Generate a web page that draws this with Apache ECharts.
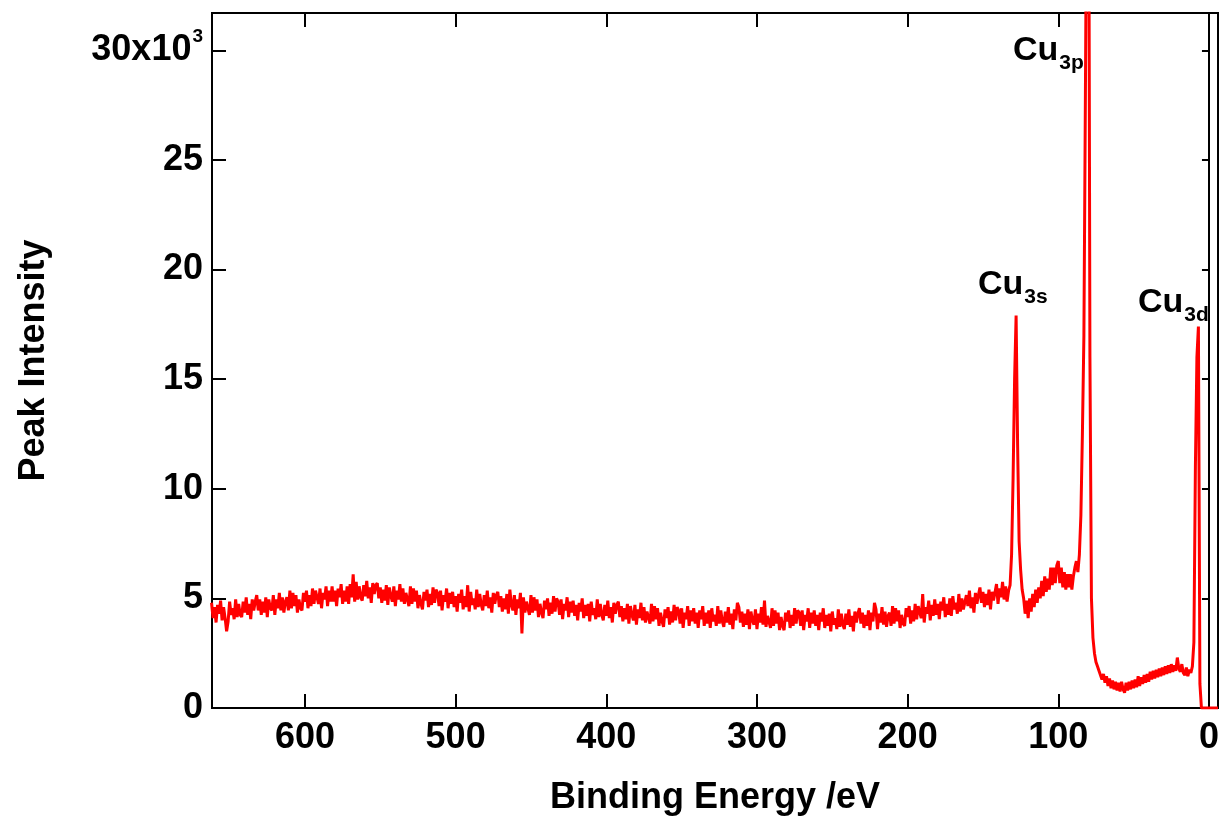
<!DOCTYPE html>
<html>
<head>
<meta charset="utf-8">
<title>XPS survey spectrum</title>
<script src="https://cdn.jsdelivr.net/npm/echarts@6/dist/echarts.min.js"></script>
<style>
  html, body { margin: 0; padding: 0; background: #fff; }
  #main { width: 1224px; height: 824px; }
</style>
</head>
<body>
<div id="main"></div>
<script>
// Spectrum channels: binding energy starts at energyStart and falls by energyStep per channel.
const energyStart = 662;   // eV
const energyStep = 1;      // eV
// Peak intensity per channel, in units of 10^3 counts.
const intensity = [
  4.8, 4.1, 4.6, 3.9, 4.7, 4.3, 4.9, 4.0, 4.6, 4.1,   // 662-653
  3.5, 3.95, 4.85, 4.25, 4.55, 4.05, 4.95, 4.15, 4.75, 4.25,   // 652-643
  4.15, 4.85, 4.35, 5.05, 4.25, 4.75, 4.05, 4.95, 4.45, 4.85,   // 642-633
  5.15, 4.45, 4.95, 4.25, 4.85, 4.35, 5.05, 4.15, 4.95, 4.55,   // 632-623
  4.45, 5.15, 4.25, 4.95, 4.55, 5.25, 4.45, 5.05, 4.35, 4.85,   // 622-613
  5.05, 4.45, 5.35, 4.55, 5.25, 4.65, 5.15, 4.35, 4.95, 4.55,   // 612-603
  4.45, 5.25, 4.85, 5.35, 4.55, 5.15, 4.65, 5.45, 4.75, 5.35,   // 602-593
  5.35, 4.75, 5.45, 4.55, 5.25, 4.95, 5.55, 4.65, 5.35, 4.85,   // 592-583
  5.55, 4.85, 5.35, 4.65, 5.45, 5.05, 5.65, 4.75, 5.35, 4.85,   // 582-573
  5.55, 4.75, 5.65, 5.05, 6.1, 4.85, 5.75, 4.95, 5.55, 5.05,   // 572-563
  4.9, 5.6, 5.1, 5.8, 5.0, 5.5, 4.8, 5.7, 5.2, 5.6,   // 562-553
  5.7, 5.0, 5.5, 4.8, 5.4, 4.9, 5.6, 4.7, 5.5, 5.1,   // 552-543
  4.85, 5.55, 4.65, 5.35, 4.95, 5.65, 4.85, 5.45, 4.75, 5.25,   // 542-533
  5.25, 4.65, 5.55, 4.75, 5.45, 4.85, 5.35, 4.55, 5.15, 4.75,   // 532-523
  4.5, 5.3, 4.9, 5.4, 4.6, 5.2, 4.7, 5.5, 4.8, 5.4,   // 522-513
  5.25, 4.65, 5.35, 4.45, 5.15, 4.85, 5.45, 4.55, 5.25, 4.75,   // 512-503
  5.3, 4.6, 5.1, 4.4, 5.2, 4.8, 5.4, 4.5, 5.1, 4.6,   // 502-493
  5.6, 4.4, 5.3, 4.7, 5.0, 4.5, 5.4, 4.6, 5.2, 4.7,   // 492-483
  4.45, 5.15, 4.65, 5.35, 4.55, 5.05, 4.35, 5.25, 4.75, 5.15,   // 482-473
  5.3, 4.6, 5.1, 4.4, 5.0, 4.5, 5.2, 4.3, 5.4, 4.7,   // 472-463
  4.45, 5.15, 4.25, 4.95, 4.55, 5.25, 3.4, 5.05, 4.35, 4.85,   // 462-453
  4.85, 4.25, 5.15, 4.35, 5.05, 4.45, 4.95, 4.15, 4.75, 4.35,   // 452-443
  4.1, 4.9, 4.5, 5.0, 4.2, 4.8, 4.3, 5.1, 4.4, 5.0,   // 442-433
  4.85, 4.25, 4.95, 4.05, 4.75, 4.45, 5.05, 4.15, 4.85, 4.35,   // 432-423
  4.9, 4.2, 4.7, 4.0, 4.8, 4.4, 5.0, 4.1, 4.7, 4.2,   // 422-413
  4.75, 3.95, 4.85, 4.25, 4.55, 4.05, 4.95, 4.15, 4.75, 4.25,   // 412-403
  4.0, 4.7, 4.2, 4.9, 4.1, 4.6, 3.9, 4.8, 4.3, 4.7,   // 402-393
  4.85, 4.15, 4.65, 3.95, 4.55, 4.05, 4.75, 3.85, 4.65, 4.25,   // 392-383
  4.0, 4.7, 3.8, 4.5, 4.1, 4.8, 4.0, 4.6, 3.9, 4.4,   // 382-373
  4.45, 3.85, 4.75, 3.95, 4.65, 4.05, 4.55, 3.75, 4.35, 3.95,   // 372-363
  3.7, 4.5, 4.1, 4.6, 3.8, 4.4, 3.9, 4.7, 4.0, 4.6,   // 362-353
  4.45, 3.85, 4.55, 3.65, 4.35, 4.05, 4.65, 3.75, 4.45, 3.95,   // 352-343
  4.55, 3.85, 4.35, 3.65, 4.45, 4.05, 4.65, 3.75, 4.35, 3.85,   // 342-333
  4.45, 3.65, 4.55, 3.95, 4.25, 3.75, 4.65, 3.85, 4.45, 3.95,   // 332-323
  3.7, 4.4, 3.9, 4.6, 3.8, 4.3, 3.6, 4.5, 4.0, 4.8,   // 322-313
  4.6, 3.9, 4.4, 3.7, 4.3, 3.8, 4.5, 3.6, 4.4, 4.0,   // 312-303
  3.8, 4.5, 3.6, 4.3, 3.9, 4.6, 3.8, 4.9, 3.7, 4.2,   // 302-293
  4.25, 3.65, 4.55, 3.75, 4.45, 3.85, 4.35, 3.55, 4.15, 3.75,   // 292-283
  3.55, 4.35, 3.95, 4.45, 3.65, 4.25, 3.75, 4.55, 3.85, 4.45,   // 282-273
  4.35, 3.75, 4.45, 3.55, 4.25, 3.95, 4.55, 3.65, 4.35, 3.85,   // 272-263
  4.45, 3.75, 4.25, 3.55, 4.35, 3.95, 4.55, 3.65, 4.25, 3.75,   // 262-253
  4.3, 3.5, 4.4, 3.8, 4.1, 3.6, 4.5, 3.7, 4.3, 3.8,   // 252-243
  3.6, 4.3, 3.8, 4.5, 3.7, 4.2, 3.5, 4.4, 3.9, 4.3,   // 242-233
  4.55, 3.85, 4.35, 3.65, 4.25, 3.75, 4.45, 3.55, 4.35, 3.95,   // 232-223
  4.8, 4.5, 3.6, 4.3, 3.9, 4.6, 3.8, 4.4, 3.7, 4.2,   // 222-213
  4.35, 3.75, 4.65, 3.85, 4.55, 3.95, 4.45, 3.65, 4.25, 3.85,   // 212-203
  3.75, 4.55, 4.15, 4.65, 3.85, 4.45, 3.95, 4.75, 4.05, 4.65,   // 202-193
  4.7, 4.1, 5.2, 3.9, 4.6, 4.3, 4.9, 4.0, 4.7, 4.2,   // 192-183
  4.95, 4.25, 4.75, 4.05, 4.85, 4.45, 5.05, 4.15, 4.75, 4.25,   // 182-173
  5.0, 4.2, 5.1, 4.5, 4.8, 4.3, 5.2, 4.4, 5.0, 4.5,   // 172-163
  4.45, 5.15, 4.65, 5.35, 4.55, 5.05, 4.35, 5.25, 4.75, 5.15,   // 162-153
  5.5, 4.8, 5.3, 4.6, 5.2, 4.7, 5.4, 4.5, 5.3, 4.9,   // 152-143
  4.95, 5.65, 4.75, 5.45, 5.05, 5.75, 4.95, 5.55, 4.85, 5.35,   // 142-133
  5.6, 7.0, 10.5, 15.0, 17.9, 12.0, 7.6, 6.3, 5.4, 5.0,   // 132-123
  4.3, 4.9, 4.1, 5.0, 4.4, 5.2, 4.6, 5.4, 4.8, 5.5,   // 122-113
  5.0, 5.8, 5.1, 6.0, 5.3, 5.9, 5.4, 6.4, 5.6, 6.4,   // 112-103
  5.7, 6.5, 6.7, 5.7, 6.4, 5.5, 6.2, 5.4, 6.1, 5.5,   // 102-93
  6.1, 5.4, 6.0, 6.4, 6.7, 6.2, 7.0, 8.8, 12.5, 17.0,   // 92-83
  28.0, 40.0, 45.0, 16.0, 5.0, 3.2, 2.5, 2.1, 1.9, 1.7,   // 82-73
  1.7, 1.3, 1.55, 1.15, 1.45, 1.0, 1.35, 0.9, 1.25, 0.85,   // 72-63
  1.2, 0.8, 1.15, 0.75, 1.2, 0.85, 0.7, 1.15, 0.8, 1.2,   // 62-53
  0.85, 1.25, 0.9, 1.3, 0.95, 1.45, 1.0, 1.4, 1.1, 1.5,   // 52-43
  1.15, 1.55, 1.2, 1.65, 1.3, 1.7, 1.35, 1.75, 1.4, 1.8,   // 42-33
  1.45, 1.85, 1.5, 1.9, 1.55, 1.95, 1.6, 2.0, 1.65, 1.95,   // 32-23
  1.7, 2.3, 1.8, 1.65, 2.0, 1.6, 1.5, 1.85, 1.45, 1.75,   // 22-13
  1.6, 1.9, 3.0, 11.0, 16.0, 17.4, 1.1, 0, 0, 0,   // 12-3
  0, 0, 0, 0, 0, 0, 0, 0, 0   // 2 to -6
];

// Axis ticks
const energyTicks = [0, 100, 200, 300, 400, 500, 600];
const intensityTicks = [0, 5, 10, 15, 20, 25, 30];

// Peak assignments; each note is anchored (left edge, text baseline) in data coordinates.
const peakNotes = [
  { name: 'Cu', sub: '3s', at: [153.3, 18.75] },
  { name: 'Cu', sub: '3p', at: [130.1, 29.43] },
  { name: 'Cu', sub: '3d', at: [47.1, 17.93] }
];

const FONT = '"Liberation Sans", Arial, Helvetica, sans-serif';
const energyMin = -6, energyMax = 661.7;
const intensityMax = 31.7;

const seriesData = intensity.map((v, i) => [energyStart - i * energyStep, v]);

const chart = echarts.init(document.getElementById('main'), null, { renderer: 'canvas' });

const axisLineStyle = { color: '#000', width: 2 };
const tickStyle = { color: '#000', width: 2 };

const option = {
  animation: false,
  backgroundColor: '#fff',
  grid: {
    left: 212, right: 6, top: 13, bottom: 116,
    show: true, borderColor: '#000', borderWidth: 2, backgroundColor: 'transparent'
  },
  xAxis: [
    {
      type: 'value', position: 'bottom', inverse: true,
      min: energyMin, max: energyMax,
      name: 'Binding Energy /eV', nameLocation: 'middle', nameGap: 72,
      nameTextStyle: { fontFamily: FONT, fontWeight: 'bold', fontSize: 36, color: '#000' },
      axisLine: { onZero: false, lineStyle: axisLineStyle },
      axisTick: { inside: true, length: 14, lineStyle: tickStyle, customValues: energyTicks },
      axisLabel: {
        customValues: energyTicks, margin: 12,
        fontFamily: FONT, fontWeight: 'bold', fontSize: 36, color: '#000'
      },
      splitLine: { show: false }
    },
    {
      type: 'value', position: 'top', inverse: true,
      min: energyMin, max: energyMax,
      axisLine: { onZero: false, lineStyle: axisLineStyle },
      axisTick: { inside: true, length: 14, lineStyle: tickStyle, customValues: energyTicks },
      axisLabel: { show: false },
      splitLine: { show: false }
    }
  ],
  yAxis: [
    {
      type: 'value', position: 'left',
      min: 0, max: intensityMax, interval: 5,
      name: 'Peak Intensity', nameLocation: 'middle', nameGap: 160, nameRotate: 90,
      nameTextStyle: { fontFamily: FONT, fontWeight: 'bold', fontSize: 36, color: '#000' },
      axisLine: { onZero: false, lineStyle: axisLineStyle },
      axisTick: { inside: true, length: 14, lineStyle: tickStyle, customValues: intensityTicks },
      axisLabel: {
        customValues: intensityTicks, margin: 9,
        fontFamily: FONT, fontWeight: 'bold', fontSize: 36, color: '#000',
        formatter: v => (v === 30 ? '{b|30x10}{sup|3}' : String(v)),
        rich: {
          b: { fontFamily: FONT, fontWeight: 'bold', fontSize: 36, lineHeight: 50, color: '#000' },
          sup: { fontFamily: FONT, fontWeight: 'bold', fontSize: 19, color: '#000',
                 verticalAlign: 'top', padding: [2, 0, 0, 1] }
        }
      },
      splitLine: { show: false }
    },
    {
      // zero-energy reference line with inward ticks
      type: 'value', position: 'right',
      min: 0, max: intensityMax, interval: 5,
      axisLine: { onZero: true, onZeroAxisIndex: 0, lineStyle: axisLineStyle },
      axisTick: { inside: true, length: 7, lineStyle: tickStyle, customValues: intensityTicks },
      axisLabel: { show: false },
      splitLine: { show: false }
    }
  ],
  series: [
    {
      type: 'line',
      xAxisIndex: 0, yAxisIndex: 0,
      data: seriesData,
      showSymbol: false,
      symbol: 'none',
      clip: true,
      sampling: null,
      lineStyle: { color: '#ff0000', width: 3 },
      z: 1
    }
  ]
};

chart.setOption(option);

// Peak labels: "Cu" with subscripted orbital
const measureCtx = document.createElement('canvas').getContext('2d');
const MAIN_SIZE = 34, SUB_SIZE = 21;
const graphics = [];
peakNotes.forEach(note => {
  const p = chart.convertToPixel({ xAxisIndex: 0, yAxisIndex: 0 }, note.at);
  measureCtx.font = 'bold ' + MAIN_SIZE + 'px ' + FONT;
  const w = measureCtx.measureText(note.name).width;
  graphics.push({
    type: 'text', x: p[0], y: p[1] - 0.35 * MAIN_SIZE, z: 10,
    style: { text: note.name, font: 'bold ' + MAIN_SIZE + 'px ' + FONT, fill: '#000',
             textAlign: 'left', textVerticalAlign: 'middle' }
  });
  graphics.push({
    type: 'text', x: p[0] + w + 1, y: p[1] + 8 - 0.35 * SUB_SIZE, z: 10,
    style: { text: note.sub, font: 'bold ' + SUB_SIZE + 'px ' + FONT, fill: '#000',
             textAlign: 'left', textVerticalAlign: 'middle' }
  });
});
chart.setOption({ graphic: graphics });
</script>
</body>
</html>
